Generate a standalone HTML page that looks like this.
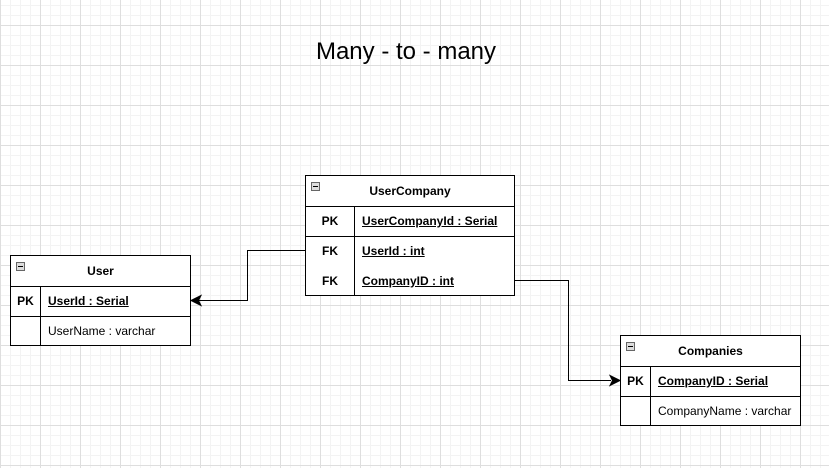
<!DOCTYPE html>
<html><head><style>
body{margin:0;width:829px;height:468px;overflow:hidden;font-family:"Liberation Sans",Arial,sans-serif;
background-color:#fff;
background-image:linear-gradient(#dedede 1px,transparent 1px),linear-gradient(90deg,#dedede 1px,transparent 1px),linear-gradient(#f3f3f3 1px,transparent 1px),linear-gradient(90deg,#f3f3f3 1px,transparent 1px);
background-size:40px 40px,40px 40px,10px 10px,10px 10px;
background-position:0 25px,0 0,0 5px,0 0;position:relative}
.t{position:absolute;border:1px solid #000;background:#fff;box-sizing:border-box;font-size:12px;color:#000}
.h{position:absolute;left:0;right:0;top:0;height:30px;border-bottom:1px solid #000;text-align:center;line-height:30px;font-weight:bold}
.h i{position:absolute;left:5px;top:6px;width:7px;height:7px;border:1px solid #666;background:#ddd}
.h i:after{content:"";position:absolute;left:1px;top:3px;width:5px;height:1px;background:#000}
.r{position:absolute;left:0;right:0;height:30px;line-height:30px}
.k{position:absolute;left:0;text-align:center;font-weight:bold}
.v{position:absolute;}
.u{font-weight:bold;text-decoration:underline}
.d{position:absolute;top:30px;bottom:0;width:1px;background:#000}
.sep{position:absolute;left:0;right:0;height:1px;background:#000}
</style></head><body>
<div style="position:absolute;left:0;width:812px;top:38px;text-align:center;font-size:24px">Many - to - many</div>

<div class="t" style="left:305px;top:175px;width:210px;height:121px">
<div class="h"><i></i>UserCompany</div>
<div class="d" style="left:48px"></div>
<div class="r" style="top:30px"><span class="k" style="width:48px">PK</span><span class="v u" style="left:56px">UserCompanyId : Serial</span></div>
<div class="sep" style="top:60px"></div>
<div class="r" style="top:60px"><span class="k" style="width:48px">FK</span><span class="v u" style="left:56px">UserId : int</span></div>
<div class="r" style="top:90px"><span class="k" style="width:48px">FK</span><span class="v u" style="left:56px">CompanyID : int</span></div>
</div>

<div class="t" style="left:10px;top:255px;width:181px;height:91px">
<div class="h"><i></i>User</div>
<div class="d" style="left:29px"></div>
<div class="r" style="top:30px"><span class="k" style="width:29px">PK</span><span class="v u" style="left:37px">UserId : Serial</span></div>
<div class="sep" style="top:60px"></div>
<div class="r" style="top:60px"><span class="v" style="left:37px">UserName : varchar</span></div>
</div>

<div class="t" style="left:620px;top:335px;width:181px;height:91px">
<div class="h"><i></i>Companies</div>
<div class="d" style="left:29px"></div>
<div class="r" style="top:30px"><span class="k" style="width:29px">PK</span><span class="v u" style="left:37px">CompanyID : Serial</span></div>
<div class="sep" style="top:60px"></div>
<div class="r" style="top:60px"><span class="v" style="left:37px">CompanyName : varchar</span></div>
</div>

<svg width="829" height="468" style="position:absolute;left:0;top:0">
<path d="M305 250.5H247.5V300.5H199" fill="none" stroke="#000"/>
<path d="M191 300.5L201 295.5L198.5 300.5L201 305.5Z" fill="#000" stroke="#000"/>
<path d="M514 280.5H568.5V380.5H611" fill="none" stroke="#000"/>
<path d="M620 380.5L610 375.5L612.5 380.5L610 385.5Z" fill="#000" stroke="#000"/>
</svg>
</body></html>
